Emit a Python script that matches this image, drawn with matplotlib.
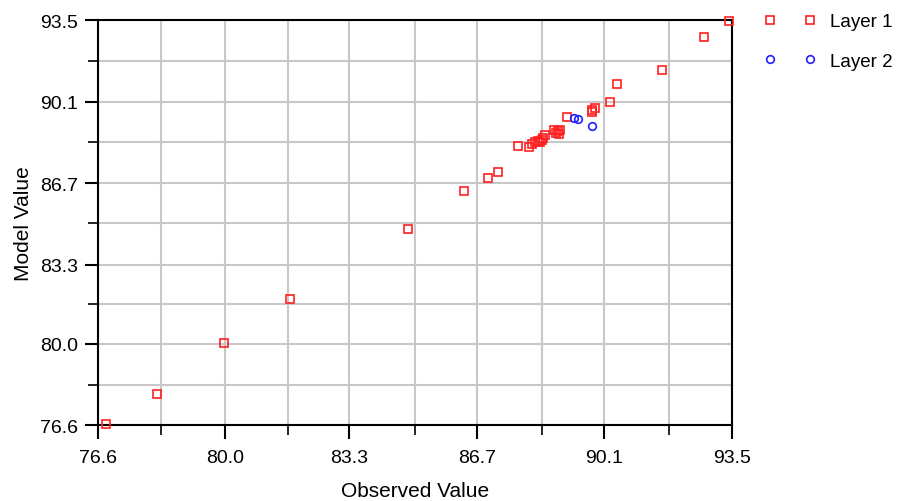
import matplotlib
matplotlib.use("Agg")
import matplotlib.pyplot as plt
from matplotlib.ticker import FixedLocator

plt.rcParams['font.family'] = ['Liberation Sans', 'DejaVu Sans']

# Layer 1 (observed, model)
layer1_obs = [76.81, 78.17, 79.96, 81.72, 84.86, 86.36, 87.00, 87.26, 87.80, 88.10,
              88.18, 88.25, 88.33, 88.38, 88.43, 88.47, 88.51, 88.75, 88.81, 88.87,
              88.93, 88.90, 89.10, 89.77, 89.77, 89.86, 90.25, 90.45, 91.64, 92.76, 93.41]
layer1_mod = [76.64, 77.89, 80.02, 81.86, 84.78, 86.38, 86.92, 87.17, 88.24, 88.19,
              88.33, 88.40, 88.46, 88.40, 88.50, 88.60, 88.70, 88.93, 88.78, 88.88,
              88.93, 88.74, 89.47, 89.65, 89.74, 89.84, 90.07, 90.82, 91.40, 92.78, 93.46]
# Layer 2
layer2_obs = [89.30, 89.40, 89.76]
layer2_mod = [89.43, 89.39, 89.08]

tick_values = [76.6, 80.0, 83.3, 86.7, 90.1, 93.5]
tick_labels = ["76.6", "80.0", "83.3", "86.7", "90.1", "93.5"]
minor_values = [78.29, 81.67, 85.05, 88.43, 91.81]

fig = plt.figure(figsize=(8.97, 5.02), dpi=100)
ax = fig.add_axes([0.109, 0.151, 0.707, 0.807])

ax.set_xlim(76.6, 93.5)
ax.set_ylim(76.6, 93.5)

ax.set_xticks(tick_values)
ax.set_xticklabels(tick_labels)
ax.set_yticks(tick_values)
ax.set_yticklabels(tick_labels)
ax.xaxis.set_minor_locator(FixedLocator(minor_values))
ax.yaxis.set_minor_locator(FixedLocator(minor_values))

ax.grid(True, which='both', color='#c8c8c8', linewidth=1.5, zorder=0)
ax.set_axisbelow(True)

for s in ax.spines.values():
    s.set_color('black')
    s.set_linewidth(1.5)

ax.tick_params(axis='x', which='major', direction='out', length=10, width=1.5, labelsize=14, pad=7)
ax.tick_params(axis='y', which='major', direction='out', length=9.5, width=1.5, labelsize=14, pad=5)
ax.tick_params(which='minor', direction='out', length=7.5, width=1.2)

ax.plot(layer1_obs, layer1_mod, linestyle='none', marker='s', markersize=5.5,
        markerfacecolor='none', markeredgecolor='#ff2020', markeredgewidth=1.2,
        label='Layer 1', clip_on=False, zorder=3)
ax.plot(layer2_obs, layer2_mod, linestyle='none', marker='o', markersize=5.5,
        markerfacecolor='none', markeredgecolor='#2020ff', markeredgewidth=1.2,
        label='Layer 2', clip_on=False, zorder=3)

ax.set_xlabel('Observed Value', fontsize=15, labelpad=11)
ax.set_ylabel('Model Value', fontsize=15, labelpad=5)

fig.legend(loc='upper left', bbox_to_anchor=(0.852, 0.972), frameon=False,
           numpoints=2, handlelength=2.73, handletextpad=0.77, labelspacing=1.2,
           borderpad=0, borderaxespad=0, fontsize=13.5)

fig.savefig('out.png', dpi=100)
